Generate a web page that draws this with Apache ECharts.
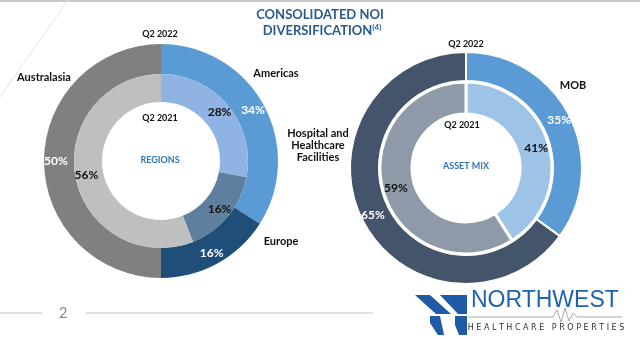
<!DOCTYPE html>
<html><head><meta charset="utf-8">
<script src="https://cdn.jsdelivr.net/npm/echarts@6/dist/echarts.min.js"></script>
<style>html,body{margin:0;padding:0;background:#fff}#c{width:640px;height:340px}</style>
</head><body><div id="c"></div>
<script>
// Regions
const regionNames = ['Americas', 'Europe', 'Australasia'];
const regions2022 = [34, 16, 50];
const regions2021 = [28, 16, 56];
// Asset mix
const assetNames = ['MOB', 'Hospital and\nHealthcare\nFacilities'];
const asset2022 = [35, 65];
const asset2021 = [41, 59];
const periods = ['Q2 2022', 'Q2 2021'];

const FONT = 'Lato, "DejaVu Sans", sans-serif';
const lblWhite = {show: true, position: 'inside', formatter: '{c}%', color: '#fff', fontSize: 12, fontWeight: 'bold', fontFamily: FONT};
const lblBlack = Object.assign({}, lblWhite, {color: '#111'});

function mk(names, vals, colors) {
  return names.map((n, i) => ({name: n, value: vals[i], itemStyle: {color: colors[i]}}));
}

const chart = echarts.init(document.getElementById('c'));
const txt = (x, y, t, o) => ({type: 'text', x: x, y: y, style: Object.assign({text: t, fill: '#111', font: 'bold 11px ' + FONT, textAlign: 'center', textVerticalAlign: 'middle'}, o || {})});

chart.setOption({
  animation: false,
  series: [
    {type: 'pie', center: [161, 161], radius: [87, 117], startAngle: 90, clockwise: true, silent: true,
     label: lblWhite, labelLine: {show: false},
     data: mk(regionNames, regions2022, ['#5B9BD5', '#1F4E79', '#808080'])},
    {type: 'pie', center: [161, 161], radius: [59, 87], startAngle: 90, clockwise: true, silent: true,
     label: lblBlack, labelLine: {show: false},
     data: mk(regionNames, regions2021, ['#8FB4E3', '#5F7F9F', '#BFBFBF'])},
    {type: 'pie', center: [466, 168], radius: [87, 116], startAngle: 90, clockwise: true, silent: true,
     label: lblWhite, labelLine: {show: false},
     itemStyle: {borderColor: '#fff', borderWidth: 2},
     data: mk(assetNames, asset2022, ['#5B9BD5', '#44546A'])},
    {type: 'pie', center: [466, 168], radius: [54, 86], startAngle: 90, clockwise: true, silent: true,
     label: lblBlack, labelLine: {show: false},
     itemStyle: {borderColor: '#fff', borderWidth: 3},
     data: mk(assetNames, asset2021, ['#9DC3E6', '#8E9AA8'])}
  ],
  graphic: [
    {type: 'line', shape: {x1: 0, y1: 1, x2: 640, y2: 1}, style: {stroke: '#c8c8c8', lineWidth: 2}},
    {type: 'line', shape: {x1: 68, y1: 0, x2: 0, y2: 97}, style: {stroke: '#e4e4e4', lineWidth: 1}},
    {type: 'text', x: 320, y: 15, style: {text: 'CONSOLIDATED NOI', fill: '#2A5A8E', font: 'bold 13px ' + FONT, textAlign: 'center', textVerticalAlign: 'middle'}},
    {type: 'text', x: 322, y: 31, style: {text: '{a|DIVERSIFICATION}{b|(4)}', textAlign: 'center', textVerticalAlign: 'middle',
      rich: {a: {fill: '#2A5A8E', font: 'bold 13px ' + FONT}, b: {fill: '#2A5A8E', font: 'bold 8px ' + FONT, verticalAlign: 'top', padding: [0, 0, 8, 0]}}}},
    txt(160, 34, periods[0], {font: 'bold 9px ' + FONT}),
    txt(160, 118, periods[1], {font: 'bold 9px ' + FONT}),
    txt(160, 160, 'REGIONS', {fill: '#2E75B6', font: 'bold 9px ' + FONT}),
    txt(466, 44, periods[0], {font: 'bold 9px ' + FONT}),
    txt(462, 125, periods[1], {font: 'bold 9px ' + FONT}),
    txt(466, 166, 'ASSET MIX', {fill: '#2E75B6', font: 'bold 9px ' + FONT}),
    txt(44, 77, regionNames[2]),
    txt(276, 73, regionNames[0]),
    txt(281, 241, regionNames[1]),
    txt(573, 85, assetNames[0]),
    txt(318, 145, assetNames[1], {lineHeight: 12}),
    {type: 'line', shape: {x1: 0, y1: 313, x2: 43, y2: 313}, style: {stroke: '#c0c0c0', lineWidth: 1}},
    {type: 'line', shape: {x1: 85, y1: 313, x2: 373, y2: 313}, style: {stroke: '#c0c0c0', lineWidth: 1}},
    {type: 'text', x: 63, y: 313, style: {text: '2', fill: '#8a8a8a', font: '15px ' + FONT, textAlign: 'center', textVerticalAlign: 'middle'}},
    // logo
    {type: 'polygon', shape: {points: [[415, 295], [430, 295], [451, 314], [436, 314]]}, style: {fill: '#1F5AA6'}},
    {type: 'polygon', shape: {points: [[430, 316], [440, 316], [444, 335], [438, 335], [430, 323]]}, style: {fill: '#1F5AA6'}},
    {type: 'polygon', shape: {points: [[440, 295], [467, 295], [467, 314], [458, 314]]}, style: {fill: '#1F5AA6'}},
    {type: 'polygon', shape: {points: [[455, 316], [467, 316], [467, 335], [459, 335], [455, 325]]}, style: {fill: '#1F5AA6'}},
    {type: 'text', x: 471, y: 301, style: {text: 'NORTHWEST', fill: '#1F63B0', font: '23px "Liberation Sans", sans-serif', textAlign: 'left', textVerticalAlign: 'middle'}},
    {type: 'polyline', shape: {points: [[468, 317], [553, 317], [557, 310], [561, 322], [565, 308], [569, 321], [573, 313], [577, 317], [622, 317]]}, style: {stroke: '#a8a8a8', lineWidth: 1, fill: null}},
    {type: 'text', x: 546, y: 328, style: {text: 'H E A L T H C A R E   P R O P E R T I E S', fill: '#333', font: '8px "DejaVu Sans", sans-serif', textAlign: 'center', textVerticalAlign: 'middle'}}
  ]
});
</script></body></html>
